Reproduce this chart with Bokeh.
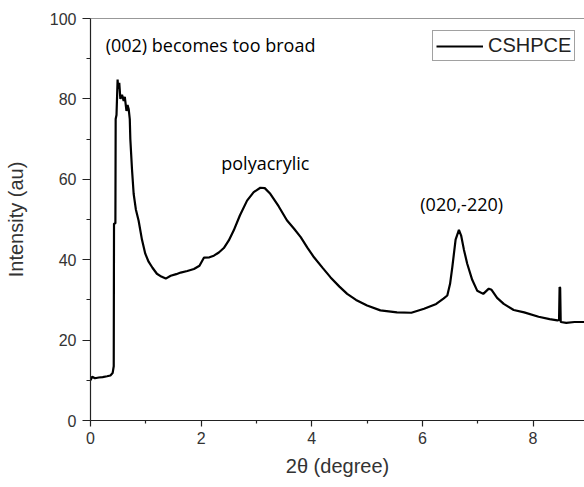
from bokeh.plotting import figure
from bokeh.models import Range1d, Span, Legend, LegendItem, Label, FixedTicker
from bokeh.embed import file_html
from bokeh.resources import INLINE

# XRD pattern (2theta in degree, intensity in au)
two_theta = [0.00, 0.03, 0.08, 0.15, 0.22, 0.30, 0.36, 0.40, 0.42, 0.425, 0.44, 0.45, 0.455,
             0.47, 0.49, 0.50, 0.52, 0.54, 0.57, 0.60, 0.62, 0.65, 0.67, 0.69, 0.71, 0.72,
             0.75, 0.78, 0.82, 0.87, 0.93, 0.99, 1.05, 1.12, 1.20, 1.28, 1.36, 1.45, 1.55,
             1.63, 1.75, 1.87, 1.97, 2.05, 2.15, 2.23, 2.32, 2.41, 2.50, 2.59, 2.70, 2.83,
             2.95, 3.07, 3.15, 3.25, 3.40, 3.55, 3.68, 3.80, 3.92, 4.04, 4.20, 4.34, 4.50,
             4.64, 4.80, 5.00, 5.24, 5.54, 5.80, 6.03, 6.25, 6.38, 6.45, 6.50, 6.54, 6.60,
             6.66, 6.70, 6.75, 6.81, 6.90, 6.99, 7.10, 7.20, 7.25, 7.35, 7.47, 7.65, 7.84,
             8.10, 8.30, 8.44, 8.47, 8.48, 8.49, 8.50, 8.60, 8.75, 8.93]
intensity = [10.0, 10.9, 10.5, 10.7, 10.8, 11.0, 11.2, 11.8, 13.5, 49.0, 49.0, 49.0, 75.0,
             76.0, 84.8, 82.5, 84.0, 80.0, 81.0, 79.5, 80.5, 77.0, 78.5, 77.5, 75.0, 70.0,
             62.5, 56.4, 52.5, 49.7, 45.0, 41.5, 39.5, 38.0, 36.5, 35.8, 35.3, 36.0, 36.4,
             36.8, 37.2, 37.7, 38.5, 40.5, 40.6, 41.0, 41.8, 42.9, 44.8, 47.3, 51.0, 54.7,
             56.8, 57.9, 57.8, 56.4, 53.3, 49.8, 47.7, 45.6, 43.0, 40.6, 37.9, 35.6, 33.3,
             31.5, 30.0, 28.6, 27.4, 26.9, 26.8, 27.8, 29.0, 30.3, 31.1, 34.0, 38.1, 45.0,
             47.4, 46.0, 42.5, 39.0, 35.0, 32.3, 31.5, 32.8, 32.5, 30.5, 29.0, 27.5, 26.9,
             25.8, 25.2, 24.9, 25.0, 33.2, 33.0, 24.5, 24.3, 24.5, 24.5]

series_name = "CSHPCE"
x_major = [0, 2, 4, 6, 8]
x_minor = [1, 3, 5, 7]
y_major = [0, 20, 40, 60, 80, 100]
y_minor = [10, 30, 50, 70, 90]
annotations = ["(002) becomes too broad", "polyacrylic", "(020,-220)"]
ann_x = [2.17, 3.16, 6.71]
ann_y = [93.3, 64.0, 53.9]

p = figure(width=584, height=487, output_backend="svg", toolbar_location=None,
           x_range=Range1d(0, 8.93), y_range=Range1d(0, 100),
           min_border_left=90, min_border_right=0, min_border_top=18, min_border_bottom=67)
p.outline_line_color = None
p.xgrid.visible = False
p.ygrid.visible = False
p.background_fill_color = "white"
p.border_fill_color = "white"

r = p.line(two_theta, intensity, line_color="black", line_width=2.2)

p.add_layout(Span(location=100, dimension="width", line_color="#333333", line_width=1.2))

p.xaxis.ticker = FixedTicker(ticks=x_major, minor_ticks=x_minor)
p.yaxis.ticker = FixedTicker(ticks=y_major, minor_ticks=y_minor)
for ax in (p.xaxis[0], p.yaxis[0]):
    ax.axis_line_color = "#222222"
    ax.axis_line_width = 1.2
    ax.major_tick_line_color = "#222222"
    ax.minor_tick_line_color = "#222222"
    ax.major_tick_line_width = 1.2
    ax.minor_tick_line_width = 1.2
    ax.major_tick_in = 0
    ax.minor_tick_in = 0
    ax.major_label_text_font = "Liberation Sans"
    ax.major_label_text_font_size = "16px"
    ax.major_label_text_color = "#333333"
    ax.axis_label_text_font = "Liberation Sans"
    ax.axis_label_text_font_size = "20px"
    ax.axis_label_text_font_style = "normal"
    ax.axis_label_text_color = "#333333"

p.xaxis.major_tick_out = 6
p.xaxis.minor_tick_out = 3
p.yaxis.major_tick_out = 8
p.yaxis.minor_tick_out = 4
p.xaxis.major_label_standoff = 5
p.yaxis.major_label_standoff = 6
p.xaxis.axis_label = "2θ (degree)"
p.yaxis.axis_label = "Intensity (au)"
p.xaxis.axis_label_standoff = 8
p.yaxis.axis_label_standoff = 20

for t, xx, yy in zip(annotations, ann_x, ann_y):
    p.add_layout(Label(x=xx, y=yy, text=t, text_align="center", text_baseline="middle",
                       text_font="Open Sans", text_font_size="18px", text_color="black"))

legend = Legend(items=[LegendItem(label=series_name, renderers=[r])],
                location=(342, 359), padding=3, margin=0,
                glyph_width=47, glyph_height=22, label_height=22, label_standoff=5,
                label_text_font="Liberation Sans", label_text_font_size="20px",
                label_text_color="#222222",
                border_line_color="#444444", border_line_width=1.3,
                background_fill_alpha=1.0)
p.add_layout(legend)

open("out.html", "w").write(file_html(p, INLINE))
